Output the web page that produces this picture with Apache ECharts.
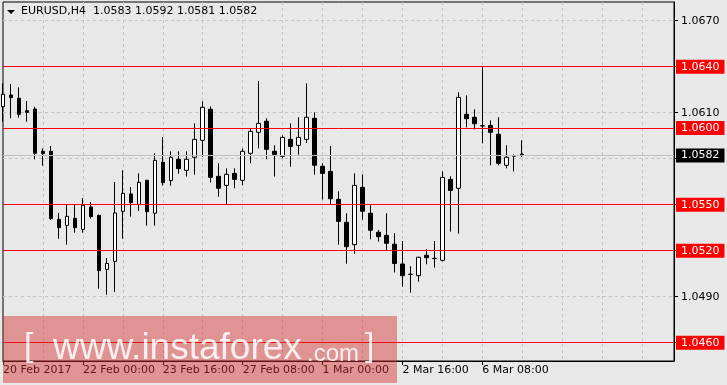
<!DOCTYPE html>
<html><head><meta charset="utf-8">
<script src="https://cdn.jsdelivr.net/npm/echarts@6/dist/echarts.min.js"></script>
<style>html,body{margin:0;padding:0;background:#e8e8e8}#c{width:727px;height:385px}</style>
</head><body><div id="c"></div>
<script>
// EURUSD H4 candles, 20 Feb 2017 08:00 onwards
const opens  = [1.06139,1.06215,1.06194,1.06113,1.06124,1.05848,1.05848,1.05404,1.05365,1.05411,
                1.05339,1.05485,1.05430,1.05078,1.05130,1.05457,1.05570,1.05502,1.05659,1.05444,
                1.05776,1.05657,1.05796,1.05724,1.05809,1.05920,1.06122,1.05685,1.05626,1.05704,
                1.05659,1.05835,1.05972,1.06044,1.05848,1.05815,1.05926,1.05887,1.05926,1.06063,
                1.05750,1.05717,1.05535,1.05385,1.05239,1.05613,1.05444,1.05320,1.05300,1.05242,
                1.05113,1.05046,1.05037,1.05170,1.05150,1.05137,1.05665,1.05607,1.06089,1.06070,
                1.06015,1.06017,1.05959,1.05757,1.05817,1.05830];
const closes = [1.06220,1.06198,1.06089,1.06102,1.05835,1.05833,1.05409,1.05350,1.05424,1.05350,
                1.05496,1.05422,1.05070,1.05117,1.05446,1.05574,1.05513,1.05646,1.05454,1.05789,
                1.05644,1.05809,1.05735,1.05796,1.05926,1.06135,1.05678,1.05607,1.05698,1.05665,
                1.05848,1.05978,1.06030,1.05861,1.05828,1.05939,1.05880,1.05939,1.06070,1.05757,
                1.05704,1.05539,1.05391,1.05226,1.05626,1.05457,1.05333,1.05291,1.05248,1.05116,
                1.05037,1.05045,1.05157,1.05154,1.05148,1.05678,1.05593,1.06200,1.06061,1.06028,
                1.06013,1.05972,1.05770,1.05809,1.05817,1.05820];
const lows   = [1.06041,1.06063,1.06067,1.06041,1.05796,1.05754,1.05400,1.05278,1.05239,1.05317,
                1.05317,1.05409,1.04952,1.04913,1.04930,1.05278,1.05422,1.05459,1.05363,1.05363,
                1.05624,1.05624,1.05702,1.05683,1.05696,1.05813,1.05644,1.05552,1.05498,1.05607,
                1.05626,1.05770,1.05867,1.05796,1.05683,1.05802,1.05748,1.05826,1.05902,1.05696,
                1.05533,1.05500,1.05239,1.05115,1.05180,1.05402,1.05274,1.05259,1.05200,1.05058,
                1.04965,1.04926,1.04998,1.05111,1.05089,1.05130,1.05324,1.05311,1.06004,1.05991,
                1.05900,1.05757,1.05757,1.05737,1.05717,1.05810];
const highs  = [1.06291,1.06287,1.06265,1.06176,1.06139,1.05867,1.05883,1.05446,1.05504,1.05504,
                1.05543,1.05517,1.05435,1.05152,1.05648,1.05724,1.05615,1.05704,1.05662,1.05835,
                1.05941,1.05848,1.05848,1.05848,1.06030,1.06174,1.06141,1.05770,1.05737,1.05737,
                1.05867,1.05998,1.06307,1.06063,1.05887,1.05952,1.06030,1.06070,1.06291,1.06102,
                1.05770,1.05883,1.05587,1.05444,1.05704,1.05698,1.05496,1.05335,1.05444,1.05314,
                1.05263,1.05098,1.05160,1.05209,1.05263,1.05717,1.05685,1.06233,1.06213,1.06122,
                1.06402,1.06050,1.06070,1.05887,1.05828,1.05920];
const xTickLabels = ['20 Feb 2017','22 Feb 00:00','23 Feb 16:00','27 Feb 08:00','1 Mar 00:00','2 Mar 16:00','6 Mar 08:00'];
const yTicks = [1.0460,1.0490,1.0520,1.0550,1.0580,1.0610,1.0640,1.0670];
const levels = [1.0640,1.0600,1.0550,1.0520,1.0460];
const bidPrice = 1.0582;
const header = 'EURUSD,H4  1.0583 1.0592 1.0581 1.0582';
const slotCount = 85;

const FONT = 'DejaVu Sans';
const categories = Array.from({length: slotCount}, (_, i) => String(i));
const candles = opens.map((o, i) => [o, closes[i], lows[i], highs[i]]);
const showTick = (i) => i % 10 === 0 && i / 10 < xTickLabels.length;

const chart = echarts.init(document.getElementById('c'), null, {renderer: 'canvas'});
chart.setOption({
  animation: false,
  backgroundColor: '#e8e8e8',
  title: {
    text: header, left: 21, top: 6, padding: 0,
    textStyle: {fontFamily: FONT, fontSize: 11, fontWeight: 'normal', color: '#000'}
  },
  grid: {left: 3, right: 53, top: 2, bottom: 24, show: true, borderColor: '#000', borderWidth: 1, backgroundColor: 'transparent'},
  xAxis: {
    type: 'category', data: categories, boundaryGap: false,
    axisLine: {show: true, lineStyle: {color: '#000', width: 1}},
    axisTick: {show: true, length: 4, interval: (i) => showTick(i), lineStyle: {color: '#000'}},
    axisLabel: {
      interval: (i) => showTick(i),
      formatter: (v, i) => xTickLabels[i / 10] || '',
      align: 'left', margin: 4, color: '#000', fontFamily: FONT, fontSize: 11
    },
    splitLine: {show: true, interval: (i) => i % 5 === 0 && i > 0, lineStyle: {color: '#c4c4c4', type: [3, 3], width: 1}}
  },
  yAxis: {
    type: 'value', position: 'right', min: 1.044804, max: 1.068218,
    axisLine: {show: true, lineStyle: {color: '#000', width: 1}},
    axisTick: {show: true, length: 4, customValues: yTicks, lineStyle: {color: '#000'}},
    axisLabel: {customValues: yTicks, formatter: (v) => Number(v).toFixed(4), margin: 7, color: '#000', fontFamily: FONT, fontSize: 11},
    splitLine: {show: true, lineStyle: {color: '#c4c4c4', type: [3, 3], width: 1}}
  },
  series: [{
    type: 'candlestick', data: candles, barWidth: 4,
    itemStyle: {color: '#ffffff', color0: '#000000', borderColor: '#000000', borderColor0: '#000000', borderWidth: 1},
    emphasis: {disabled: true},
    markLine: {
      symbol: 'none', silent: true, animation: false, precision: 5,
      label: {show: true, position: 'end', distance: 2, formatter: (p) => Number(p.value).toFixed(4),
               fontFamily: FONT, fontSize: 11, color: '#fff', padding: [1, 5, 0, 5], lineHeight: 13},
      data: [{yAxis: bidPrice, lineStyle: {color: '#c0c0c0', width: 1, type: 'solid'},
              label: {backgroundColor: '#000', color: '#fff'}}]
        .concat(levels.map(v => ({yAxis: v, lineStyle: {color: '#ff0000', width: 1, type: 'solid'},
                               label: {backgroundColor: '#ff0000', color: '#fff'}})))
    }
  }],
  graphic: [
    {type: 'polygon', z: 100, shape: {points: [[7, 10], [15, 10], [11, 14]]}, style: {fill: '#000'}},
    {type: 'rect', z: 100, shape: {x: 3, y: 316, width: 394, height: 67}, style: {fill: 'rgba(215,45,45,0.45)'}},
    {type: 'text', z: 101, x: 24, y: 347, style: {text: '[', font: '34px "Liberation Sans"', fill: 'rgba(255,255,255,0.85)', verticalAlign: 'middle'}},
    {type: 'text', z: 101, x: 53, y: 349, style: {text: 'www.instaforex', font: '37px "Liberation Sans"', fill: 'rgba(255,255,255,0.85)', verticalAlign: 'middle'}},
    {type: 'text', z: 101, x: 307, y: 354, style: {text: '.com', font: '24px "Liberation Sans"', fill: 'rgba(255,255,255,0.85)', verticalAlign: 'middle'}},
    {type: 'text', z: 101, x: 365, y: 347, style: {text: ']', font: '34px "Liberation Sans"', fill: 'rgba(255,255,255,0.85)', verticalAlign: 'middle'}}
  ]
});
</script></body></html>
